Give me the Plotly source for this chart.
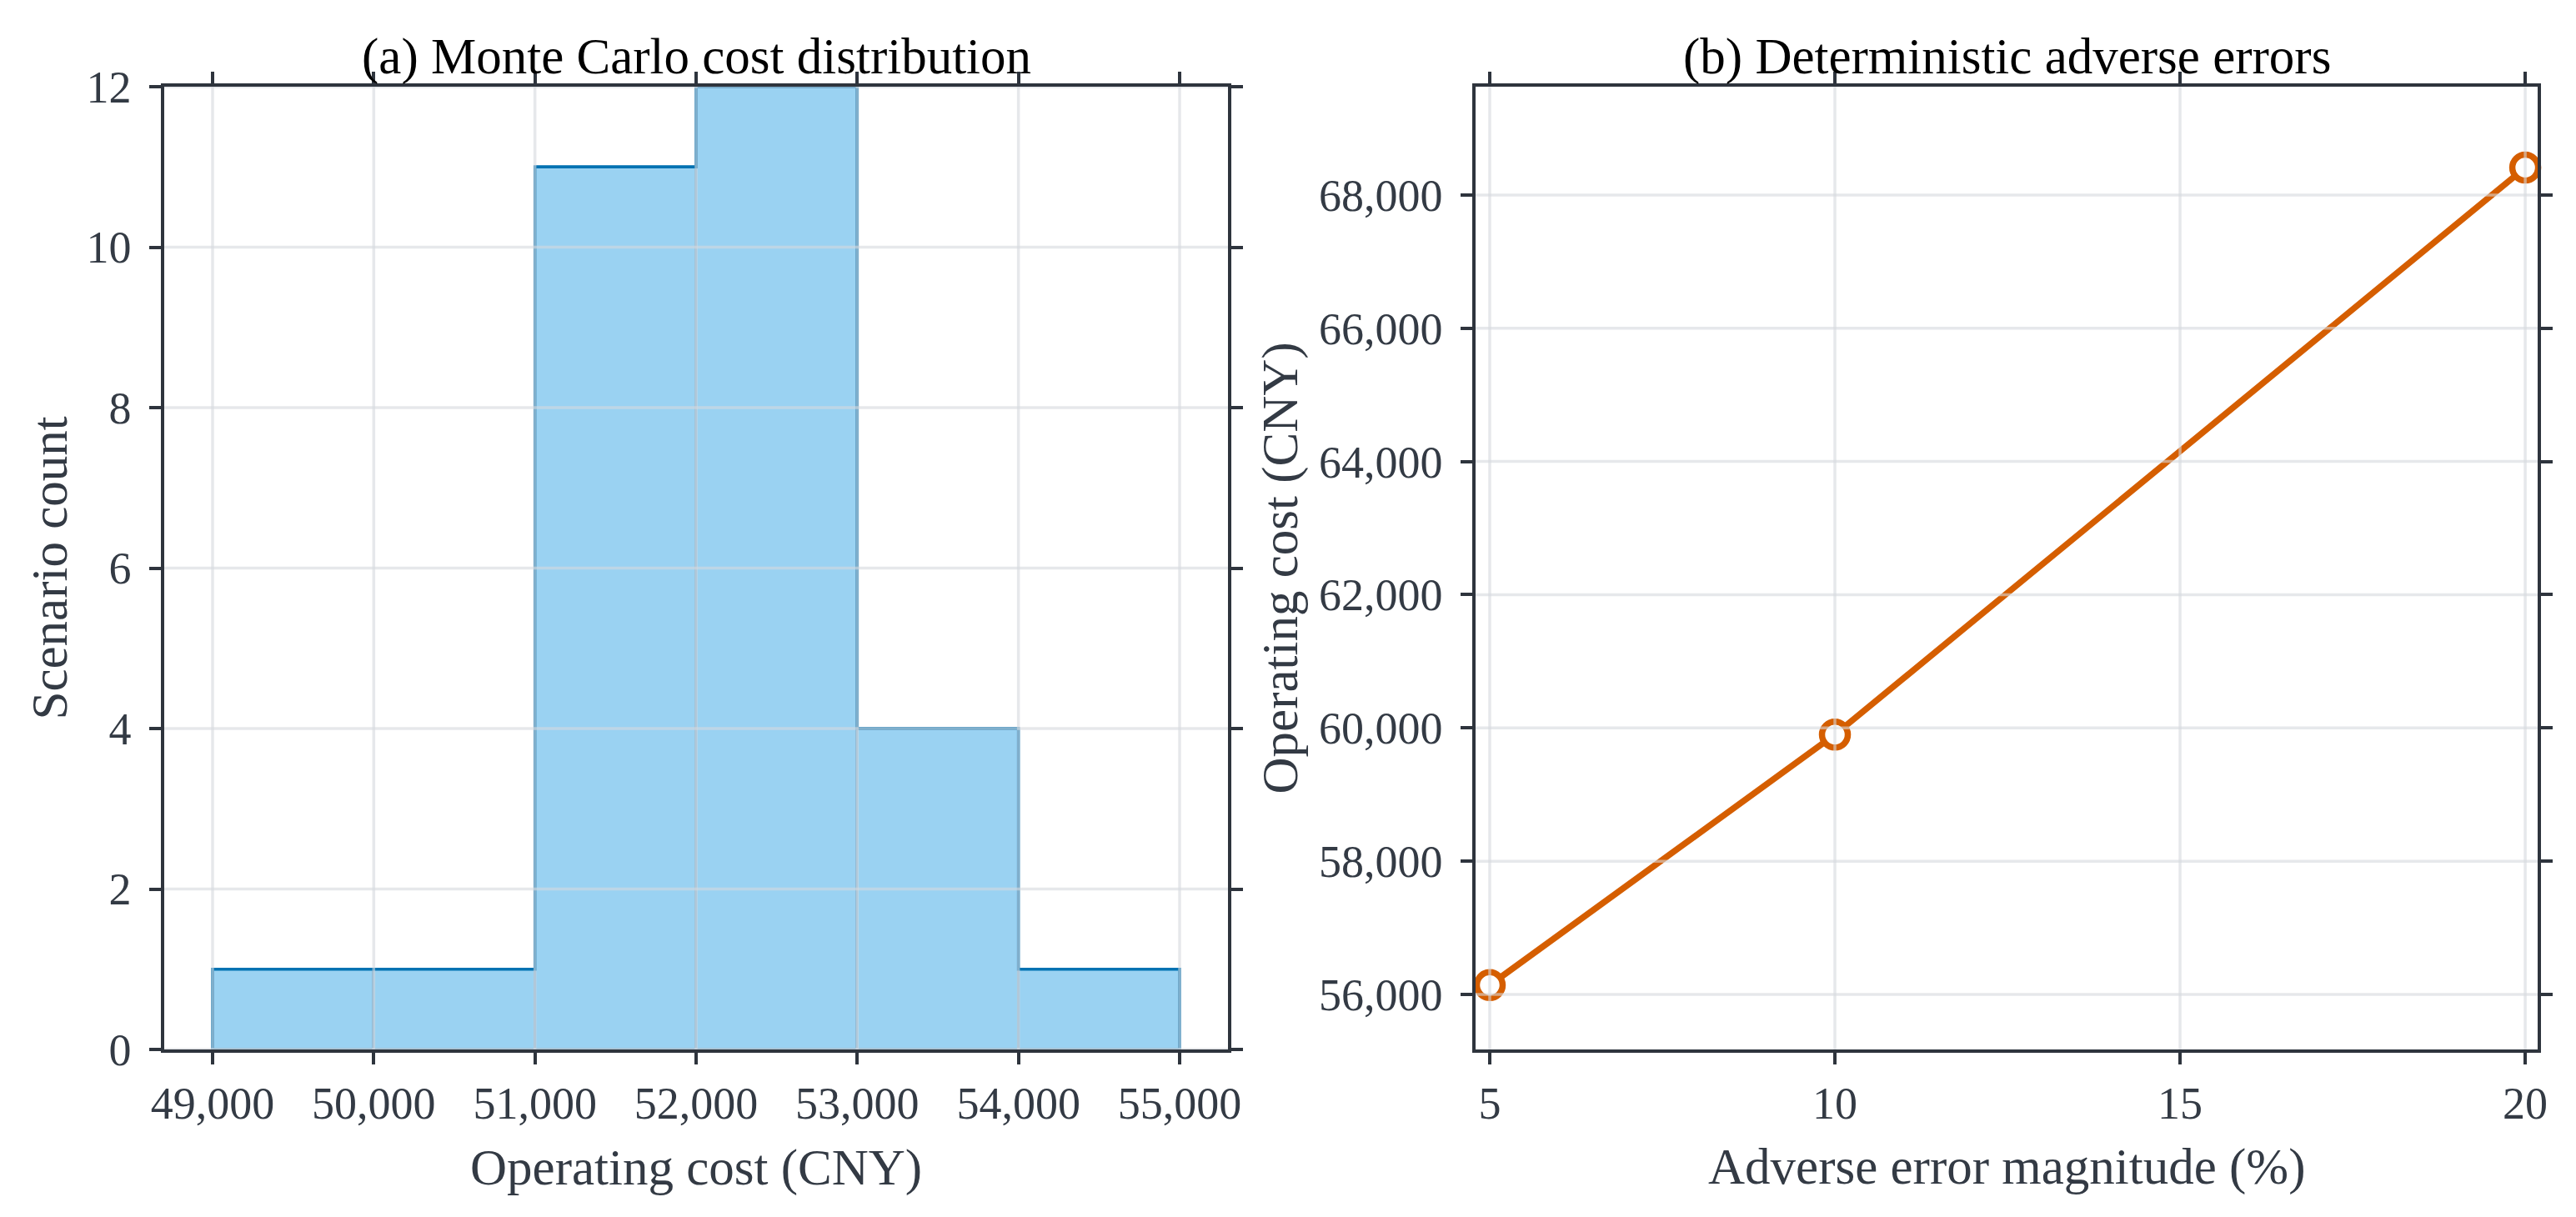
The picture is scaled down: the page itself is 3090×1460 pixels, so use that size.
import plotly.graph_objects as go

# ---------------- data ----------------
bin_edges = [49000, 50000, 51000, 52000, 53000, 54000, 55000]
scenario_counts = [1, 1, 11, 12, 4, 1]

error_magnitude = [5, 10, 20]
operating_cost = [56140, 59900, 68410]

left_xticks = [49000, 50000, 51000, 52000, 53000, 54000, 55000]
left_yticks = [0, 2, 4, 6, 8, 10, 12]
right_xticks = [5, 10, 15, 20]
right_yticks = [56000, 58000, 60000, 62000, 64000, 66000, 68000]

# ---------------- style ----------------
W, H = 3090, 1460
FONT = "Liberation Serif"
AX = "#2E343D"
TXT = "#333A44"
GRID = "rgba(214,216,222,0.6)"

centers = [(a + b) / 2 for a, b in zip(bin_edges[:-1], bin_edges[1:])]
widths = [b - a for a, b in zip(bin_edges[:-1], bin_edges[1:])]

step_x, step_y = [bin_edges[0]], [0]
for i, c in enumerate(scenario_counts):
    step_x += [bin_edges[i], bin_edges[i + 1]]
    step_y += [c, c]
step_x.append(bin_edges[-1])
step_y.append(0)

fig = go.Figure()

fig.add_trace(go.Bar(
    x=centers, y=scenario_counts, width=widths,
    marker=dict(color="rgba(86,180,233,0.6)",
                line=dict(color="rgb(122,176,210)", width=3)),
    xaxis="x", yaxis="y", showlegend=False,
))
fig.add_trace(go.Scatter(
    x=step_x, y=step_y, mode="lines",
    line=dict(color="#0072B2", width=3.5),
    xaxis="x", yaxis="y", showlegend=False,
))
fig.add_trace(go.Scatter(
    x=error_magnitude, y=operating_cost, mode="lines+markers",
    line=dict(color="#D55E00", width=7.5),
    marker=dict(symbol="circle", size=31, color="white",
                line=dict(color="#D55E00", width=7.5)),
    cliponaxis=False,
    xaxis="x2", yaxis="y2", showlegend=False,
))

axis_common = dict(
    showline=True, linecolor=AX, linewidth=3.5, mirror="ticks",
    ticks="outside", ticklen=14, tickwidth=3.5, tickcolor=AX,
    showgrid=False, zeroline=False, automargin=False,
    tickfont=dict(family=FONT, size=54, color=TXT),
)

xdom1 = [189 / W, 1465 / W]
xdom2 = [1762 / W, 3036 / W]
ydom = [1 - 1251 / H, 1 - 96 / H]

fig.update_layout(
    width=W, height=H,
    margin=dict(l=0, r=0, t=0, b=0),
    paper_bgcolor="white", plot_bgcolor="white",
    bargap=0,
    font=dict(family=FONT),
    xaxis=dict(domain=xdom1, range=[48700, 55300],
               tickvals=left_xticks, tickformat=",",
               anchor="y", **axis_common),
    yaxis=dict(domain=ydom, range=[0, 12], tickvals=left_yticks,
               ticklabelstandoff=11,
               anchor="x", **axis_common),
    xaxis2=dict(domain=xdom2, range=[4.795, 20.18],
                tickvals=right_xticks,
                anchor="y2", **axis_common),
    yaxis2=dict(domain=ydom, range=[55175, 69625], tickvals=right_yticks,
                tickformat=",", ticklabelstandoff=11,
                anchor="x2", **axis_common),
)

# grid lines drawn over the data (as in the reference)
shapes = []
for v in left_xticks:
    shapes.append(dict(type="line", xref="x", yref="y domain", x0=v, x1=v, y0=0, y1=1,
                       line=dict(color=GRID, width=3.5), layer="above"))
for v in left_yticks:
    shapes.append(dict(type="line", xref="x domain", yref="y", x0=0, x1=1, y0=v, y1=v,
                       line=dict(color=GRID, width=3.5), layer="above"))
for v in right_xticks:
    shapes.append(dict(type="line", xref="x2", yref="y2 domain", x0=v, x1=v, y0=0, y1=1,
                       line=dict(color=GRID, width=3.5), layer="above"))
for v in right_yticks:
    shapes.append(dict(type="line", xref="x2 domain", yref="y2", x0=0, x1=1, y0=v, y1=v,
                       line=dict(color=GRID, width=3.5), layer="above"))
fig.update_layout(shapes=shapes)

ymid = (ydom[0] + ydom[1]) / 2

# panel titles
for text, xd in [("(a) Monte Carlo cost distribution", sum(xdom1) / 2),
                 ("(b) Deterministic adverse errors", sum(xdom2) / 2)]:
    fig.add_annotation(text=text, x=xd, y=1 - 60 / H, xref="paper", yref="paper",
                       xanchor="center", yanchor="middle", showarrow=False,
                       font=dict(family=FONT, size=61, color="black"))

# axis titles
title_font = dict(family=FONT, size=61, color=TXT)
fig.add_annotation(text="Operating cost (CNY)", x=sum(xdom1) / 2, y=1 - 1393 / H,
                   xref="paper", yref="paper", xanchor="center", yanchor="middle",
                   showarrow=False, font=title_font)
fig.add_annotation(text="Adverse error magnitude (%)", x=sum(xdom2) / 2, y=1 - 1392 / H,
                   xref="paper", yref="paper", xanchor="center", yanchor="middle",
                   showarrow=False, font=title_font)
fig.add_annotation(text="Scenario count", x=51 / W, y=ymid, textangle=-90,
                   xref="paper", yref="paper", xanchor="center", yanchor="middle",
                   showarrow=False, font=title_font)
fig.add_annotation(text="Operating cost (CNY)", x=1527 / W, y=ymid, textangle=-90,
                   xref="paper", yref="paper", xanchor="center", yanchor="middle",
                   showarrow=False, font=title_font)

fig.write_html("out.html")
